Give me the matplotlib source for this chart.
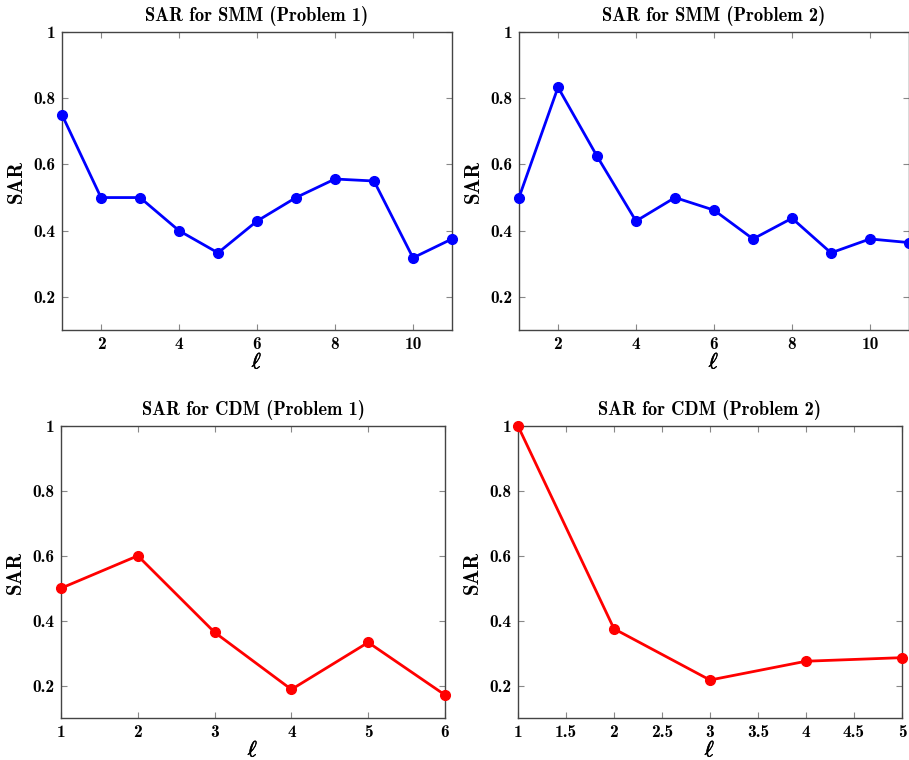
import numpy as np
import matplotlib
matplotlib.use('Agg')
import matplotlib.pyplot as plt
import matplotlib.patheffects as pe

plt.rcParams['mathtext.fontset'] = 'cm'
plt.rcParams['axes.unicode_minus'] = False

# data
smm1_x = np.arange(1, 12)
smm1_y = [0.75, 0.5, 0.5, 0.4, 0.333, 0.429, 0.5, 0.556, 0.55, 0.318, 0.375]
smm2_x = np.arange(1, 12)
smm2_y = [0.5, 0.833, 0.625, 0.429, 0.5, 0.462, 0.375, 0.4375, 0.333, 0.375, 0.364]
cdm1_x = np.arange(1, 7)
cdm1_y = [0.5, 0.6, 0.364, 0.188, 0.333, 0.171]
cdm2_x = np.arange(1, 6)
cdm2_y = [1.0, 0.375, 0.217, 0.275, 0.286]

titles = ['SAR for SMM (Problem 1)', 'SAR for SMM (Problem 2)',
          'SAR for CDM (Problem 1)', 'SAR for CDM (Problem 2)']
yticks = [0.2, 0.4, 0.6, 0.8, 1.0]
ytick_labels = ['0.2', '0.4', '0.6', '0.8', '1']

W, H = 909, 760
fig = plt.figure(figsize=(W / 100, H / 100), dpi=100)

# axes boxes in pixels: left, top, right, bottom
boxes = [(62, 32, 452, 330), (519, 32, 909, 330),
         (61, 426, 445, 718), (518, 426, 902, 718)]

def make_ax(box):
    l, t, r, b = box
    return fig.add_axes([l / W, 1 - b / H, (r - l) / W, (b - t) / H])

def style(ax, title, xlim, xticks, xlabels):
    ax.set_xlim(*xlim)
    ax.set_ylim(0.1, 1.0)
    ax.set_xticks(xticks)
    ax.set_xticklabels(xlabels, fontfamily='cmb10', fontsize=12.5)
    ax.set_yticks(yticks)
    ax.set_yticklabels(ytick_labels, fontfamily='cmb10', fontsize=12.5)
    ax.tick_params(direction='in', top=True, right=True, length=4,
                   width=0.8, color='#888888', pad=5)
    for s in ax.spines.values():
        s.set_color('#444444')
        s.set_linewidth(1.0)
    ax.set_title(title, fontfamily='cmb10', fontsize=13.3, pad=8)
    xl = ax.set_xlabel(r'$\ell$', fontsize=16, labelpad=0)
    xl.set_path_effects([pe.withStroke(linewidth=0.4, foreground='black')])
    ax.set_ylabel('SAR', fontfamily='cmb10', fontsize=15, labelpad=5)

ax1 = make_ax(boxes[0])
ax1.plot(smm1_x, smm1_y, '-o', color='#0000ff', lw=2, ms=7, clip_on=False, zorder=5)
style(ax1, titles[0], (1, 11), [2, 4, 6, 8, 10], ['2', '4', '6', '8', '10'])

ax2 = make_ax(boxes[1])
ax2.plot(smm2_x, smm2_y, '-o', color='#0000ff', lw=2, ms=7, clip_on=False, zorder=5)
style(ax2, titles[1], (1, 11), [2, 4, 6, 8, 10], ['2', '4', '6', '8', '10'])

ax3 = make_ax(boxes[2])
ax3.plot(cdm1_x, cdm1_y, '-o', color='#ff0000', lw=2, ms=7, clip_on=False, zorder=5)
style(ax3, titles[2], (1, 6), [1, 2, 3, 4, 5, 6], ['1', '2', '3', '4', '5', '6'])

ax4 = make_ax(boxes[3])
ax4.plot(cdm2_x, cdm2_y, '-o', color='#ff0000', lw=2, ms=7, clip_on=False, zorder=5)
x4 = [1, 1.5, 2, 2.5, 3, 3.5, 4, 4.5, 5]
style(ax4, titles[3], (1, 5), x4, ['1', '1.5', '2', '2.5', '3', '3.5', '4', '4.5', '5'])

fig.savefig('out.png', dpi=100)
